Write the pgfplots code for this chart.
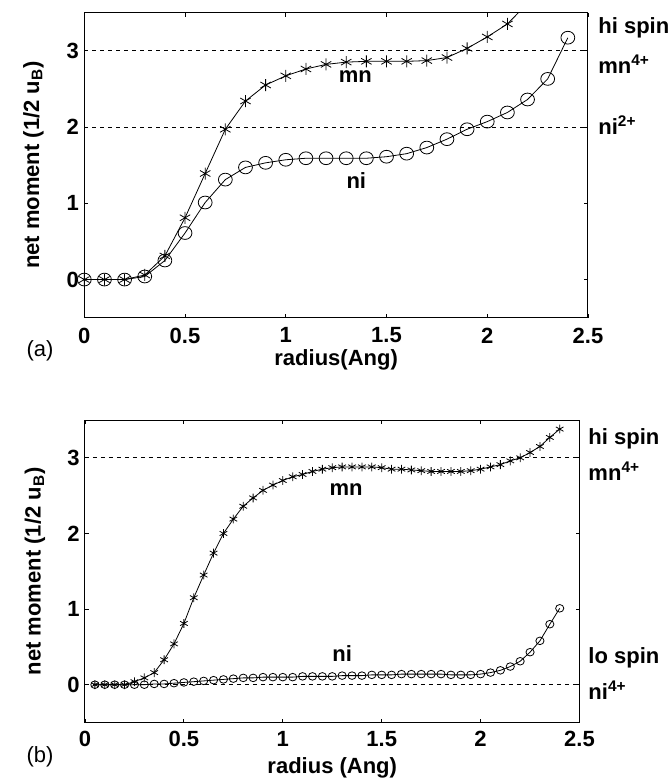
\documentclass[border=0pt]{standalone}
\usepackage{fontspec}
\setmainfont{Liberation Sans}
\usepackage{pgfplots}
\pgfplotsset{compat=1.18}

\newcommand{\lbl}{\fontsize{11}{13}\selectfont\bfseries}

\pgfplotsset{
  mpanel/.style={
    scale only axis,
    xmin=0, xmax=2.5, ymin=-0.5, ymax=3.5,
    xtick={0,0.5,1,1.5,2,2.5},
    ytick={0,1,2,3},
    tick align=inside,
    major tick length=2pt,
    axis line style={line width=0.5pt},
    every tick/.style={black, line width=0.4pt},
    clip mode=individual,
    tick label style={font=\lbl},
    /pgf/number format/assume math mode=true,
    label style={font=\lbl},
    ylabel style={at={(axis description cs:-0.101,0.5)}, anchor=center},
    xlabel style={at={(axis description cs:0.5,0)}, anchor=center},
    yticklabel style={xshift=0.8pt},
  },
  refline/.style={black, line width=0.4pt, dash pattern=on 2pt off 2pt},
}

\begin{document}
\begin{tikzpicture}
\path[use as bounding box] (0,0) rectangle (335pt,-389pt);

% panel (a)
\begin{axis}[mpanel,
  at={(42.15pt,-158.85pt)}, anchor=south west,
  width=251.85pt, height=152.6pt,
  xticklabel style={yshift=-1.5pt},
  xlabel={radius(Ang)}, xlabel style={yshift=-21pt},
  ylabel={net moment (1/2 u\textsubscript{B})},
]
\addplot[refline] coordinates {(0,3) (2.5,3)};
\addplot[refline] coordinates {(0,2) (2.5,2)};
\addplot[black, line width=0.4pt, mark=asterisk, mark size=3pt,
  mark indices={1,...,22}, mark options={solid}] coordinates {
  (0,0) (0.1,0) (0.2,0) (0.3,0.06) (0.4,0.31) (0.5,0.81) (0.6,1.39)
  (0.7,1.97) (0.8,2.34) (0.9,2.55) (1.0,2.67) (1.1,2.76) (1.2,2.82)
  (1.3,2.85) (1.4,2.86) (1.5,2.86) (1.6,2.86) (1.7,2.87) (1.8,2.91)
  (1.9,3.03) (2.0,3.18) (2.1,3.35) (2.2,3.62)
};
\addplot[black, line width=0.4pt, mark=o, mark size=3.2pt,
  mark options={solid, xscale=1.08}] coordinates {
  (0,0) (0.1,0) (0.2,0) (0.3,0.04) (0.4,0.25) (0.5,0.61) (0.6,1.01)
  (0.7,1.31) (0.8,1.47) (0.9,1.53) (1.0,1.57) (1.1,1.59) (1.2,1.59)
  (1.3,1.59) (1.4,1.59) (1.5,1.61) (1.6,1.65) (1.7,1.73) (1.8,1.84)
  (1.9,1.97) (2.0,2.07) (2.1,2.19) (2.2,2.36) (2.3,2.63) (2.4,3.17)
};
\node[font=\lbl] at (axis cs:1.345,2.66) {mn};
\node[font=\lbl] at (axis cs:1.35,1.30) {ni};
\node[font=\lbl, anchor=west, inner sep=0, xshift=5pt] at (axis cs:2.5,3.30) {hi spin};
\node[font=\lbl, anchor=west, inner sep=0, xshift=5pt] at (axis cs:2.5,2.82) {mn\textsuperscript{4+}};
\node[font=\lbl, anchor=west, inner sep=0, xshift=5pt] at (axis cs:2.5,2.03) {ni\textsuperscript{2+}};
\end{axis}
\node[font=\fontsize{11}{13}\selectfont] at (20pt,-175.5pt) {(a)};

% panel (b)
\begin{axis}[mpanel,
  at={(42.5pt,-361.25pt)}, anchor=south west,
  width=247.25pt, height=151.25pt,
  xticklabel style={yshift=-1pt},
  xlabel={radius (Ang)}, xlabel style={yshift=-22.75pt},
  ylabel={net moment (1/2 u\textsubscript{B})},
]
\addplot[refline] coordinates {(0,3) (2.5,3)};
\addplot[refline] coordinates {(0,0) (2.5,0)};
\addplot[black, line width=0.4pt, mark=asterisk, mark size=2.2pt,
  mark options={solid}] coordinates {
  (0.05,0) (0.1,0) (0.15,0) (0.2,0) (0.25,0.04) (0.3,0.09) (0.35,0.16)
  (0.4,0.33) (0.45,0.54) (0.5,0.81) (0.55,1.15) (0.6,1.45) (0.65,1.74)
  (0.7,2.00) (0.75,2.19) (0.8,2.36) (0.85,2.47) (0.9,2.57) (0.95,2.64)
  (1.0,2.70) (1.05,2.75) (1.1,2.78) (1.15,2.82) (1.2,2.85) (1.25,2.87)
  (1.3,2.88) (1.35,2.88) (1.4,2.88) (1.45,2.88) (1.5,2.87) (1.55,2.85)
  (1.6,2.85) (1.65,2.84) (1.7,2.83) (1.75,2.82) (1.8,2.82) (1.85,2.82)
  (1.9,2.82) (1.95,2.83) (2.0,2.85) (2.05,2.88) (2.1,2.91) (2.15,2.96)
  (2.2,3.00) (2.25,3.07) (2.3,3.15) (2.35,3.27) (2.4,3.38)
};
\addplot[black, line width=0.4pt, mark=o, mark size=1.9pt,
  mark options={solid, xscale=1.08}] coordinates {
  (0.05,0) (0.1,0) (0.15,0) (0.2,0) (0.25,0) (0.3,0.0) (0.35,0.01)
  (0.4,0.01) (0.45,0.02) (0.5,0.03) (0.55,0.04) (0.6,0.05) (0.65,0.06)
  (0.7,0.07) (0.75,0.08) (0.8,0.09) (0.85,0.09) (0.9,0.10) (0.95,0.10)
  (1.0,0.10) (1.05,0.10) (1.1,0.11) (1.15,0.11) (1.2,0.11) (1.25,0.11)
  (1.3,0.12) (1.35,0.12) (1.4,0.12) (1.45,0.13) (1.5,0.13) (1.55,0.13)
  (1.6,0.14) (1.65,0.14) (1.7,0.14) (1.75,0.14) (1.8,0.14) (1.85,0.13)
  (1.9,0.13) (1.95,0.13) (2.0,0.14) (2.05,0.16) (2.1,0.19) (2.15,0.24)
  (2.2,0.31) (2.25,0.43) (2.3,0.58) (2.35,0.80) (2.4,1.01)
};
\node[font=\lbl] at (axis cs:1.32,2.58) {mn};
\node[font=\lbl] at (axis cs:1.30,0.41) {ni};
\node[font=\lbl, anchor=west, inner sep=0, xshift=4.3pt] at (axis cs:2.5,3.25) {hi spin};
\node[font=\lbl, anchor=west, inner sep=0, xshift=4.3pt] at (axis cs:2.5,2.82) {mn\textsuperscript{4+}};
\node[font=\lbl, anchor=west, inner sep=0, xshift=4.3pt] at (axis cs:2.5,0.36) {lo spin};
\node[font=\lbl, anchor=west, inner sep=0, xshift=4.3pt] at (axis cs:2.5,-0.07) {ni\textsuperscript{4+}};
\end{axis}
\node[font=\fontsize{11}{13}\selectfont] at (20pt,-378.5pt) {(b)};
\end{tikzpicture}
\end{document}
